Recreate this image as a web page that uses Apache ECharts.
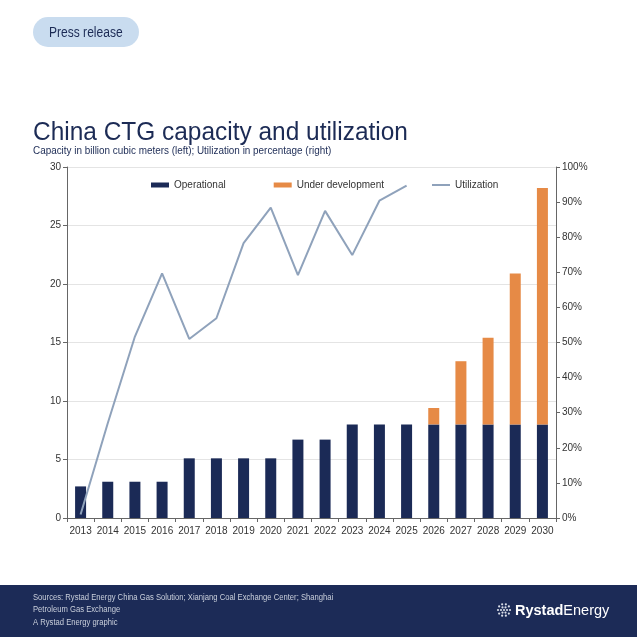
<!DOCTYPE html>
<html>
<head>
<meta charset="utf-8">
<title>China CTG capacity and utilization</title>
<script src="https://cdn.jsdelivr.net/npm/echarts@6/dist/echarts.min.js"></script>
<style>
  html, body { margin: 0; padding: 0; background: #fff; }
  #main { width: 637px; height: 637px; }
</style>
</head>
<body>
<div id="main"></div>
<script>
// data
var years = ['2013', '2014', '2015', '2016', '2017', '2018', '2019', '2020', '2021',
             '2022', '2023', '2024', '2025', '2026', '2027', '2028', '2029', '2030'];
// capacity, billion cubic meters
var operational = [2.7, 3.1, 3.1, 3.1, 5.1, 5.1, 5.1, 5.1, 6.7, 6.7, 8, 8, 8, 8, 8, 8, 8, 8];
var underDevelopment = [null, null, null, null, null, null, null, null, null, null, null, null, null,
                        1.4, 5.4, 7.4, 12.9, 20.2];
// utilization, percent
var utilization = [1, 27, 51.7, 69.7, 51, 56.9, 78.3, 88.4, 69.2, 87.5, 74.9, 90.4, 94.7,
                   null, null, null, null, null];

var navy = '#1b2a56';
var orange = '#e68a46';
var steel = '#8fa2bb';
var font = 'Liberation Sans, Arial, sans-serif';

var myChart = echarts.init(document.getElementById('main'), null, { renderer: 'canvas' });

// little dotted globe for the logo
var logoDots = [];
var rings = [[0, 1], [3, 6], [6, 10]];
rings.forEach(function (r) {
    for (var k = 0; k < r[1]; k++) {
        var a = (Math.PI * 2 * k) / r[1];
        logoDots.push({
            type: 'circle',
            shape: { cx: 504 + r[0] * Math.cos(a), cy: 610 + r[0] * Math.sin(a), r: 1.1 },
            style: { fill: '#d9dee8' }
        });
    }
});

var option = {
    animation: false,
    backgroundColor: '#fff',
    textStyle: { fontFamily: font },
    grid: { left: 67, right: 81, top: 167, bottom: 119 },
    legend: {
        top: 175,
        left: 146,
        itemGap: 48,
        itemWidth: 18,
        itemHeight: 5,
        textStyle: { fontSize: 10, color: '#333', fontFamily: font },
        data: [
            { name: 'Operational', icon: 'rect' },
            { name: 'Under development', icon: 'rect' },
            { name: 'Utilization', icon: 'path://M0,0H18V2H0Z', itemStyle: { color: steel } }
        ]
    },
    xAxis: {
        type: 'category',
        data: years,
        boundaryGap: true,
        axisLine: { lineStyle: { color: '#666', width: 1 } },
        axisTick: { show: true, length: 4, lineStyle: { color: '#666' } },
        axisLabel: { color: '#333', fontSize: 10, margin: 8, interval: 0 }
    },
    yAxis: [{
        type: 'value',
        min: 0,
        max: 30,
        interval: 5,
        axisLine: { show: true, lineStyle: { color: '#666', width: 1 } },
        axisTick: { show: true, length: 4, lineStyle: { color: '#666' } },
        axisLabel: { color: '#333', fontSize: 10, margin: 6 },
        splitLine: { show: true, lineStyle: { color: '#e4e4e4', width: 1 } }
    }, {
        type: 'value',
        min: 0,
        max: 100,
        interval: 10,
        axisLine: { show: true, lineStyle: { color: '#666', width: 1 } },
        axisTick: { show: true, length: 4, lineStyle: { color: '#666' } },
        axisLabel: { color: '#333', fontSize: 10, margin: 6, formatter: '{value}%' },
        splitLine: { show: false }
    }],
    series: [{
        name: 'Operational',
        type: 'bar',
        stack: 'cap',
        barWidth: 11,
        itemStyle: { color: navy },
        data: operational
    }, {
        name: 'Under development',
        type: 'bar',
        stack: 'cap',
        barWidth: 11,
        itemStyle: { color: orange },
        data: underDevelopment
    }, {
        name: 'Utilization',
        type: 'line',
        yAxisIndex: 1,
        symbol: 'none',
        showSymbol: false,
        lineStyle: { color: steel, width: 2 },
        itemStyle: { color: steel },
        data: utilization
    }],
    graphic: [
        // "Press release" pill
        {
            type: 'rect',
            shape: { x: 33, y: 17, width: 106, height: 30, r: 15 },
            style: { fill: '#c9dcef' }
        }, {
            type: 'text',
            x: 49, y: 33,
            scaleX: 0.86,
            style: {
                text: 'Press release', fill: '#1c2b55', font: '14px ' + font,
                verticalAlign: 'middle'
            }
        },
        // title and subtitle
        {
            type: 'text',
            x: 33, y: 120,
            scaleX: 0.94,
            style: {
                text: 'China CTG capacity and utilization', fill: '#1c2b55',
                font: '26px ' + font, verticalAlign: 'alphabetic'
            }
        }, {
            type: 'text',
            x: 33, y: 145,
            scaleX: 0.9,
            style: {
                text: 'Capacity in billion cubic meters (left); Utilization in percentage (right)',
                fill: '#1c2b55', font: '11px ' + font, verticalAlign: 'alphabetic'
            }
        },
        // footer band
        {
            type: 'rect',
            shape: { x: 0, y: 585, width: 637, height: 52 },
            style: { fill: '#1c2b57' }
        }, {
            type: 'text',
            x: 33, y: 591,
            scaleX: 0.9,
            style: {
                text: 'Sources: Rystad Energy China Gas Solution; Xianjang Coal Exchange Center; Shanghai\nPetroleum Gas Exchange\nA Rystad Energy graphic',
                fill: '#c9cfdb', font: '8.5px ' + font, lineHeight: 12.5, verticalAlign: 'top'
            }
        }, {
            type: 'text',
            x: 515, y: 611,
            style: {
                rich: {
                    b: { fontSize: 14.5, fontWeight: 'bold', fill: '#fff', fontFamily: font },
                    r: { fontSize: 14.5, fill: '#fff', fontFamily: font }
                },
                text: '{b|Rystad}{r|Energy}',
                verticalAlign: 'middle'
            }
        }
    ].concat(logoDots)
};

myChart.setOption(option);
</script>
</body>
</html>
